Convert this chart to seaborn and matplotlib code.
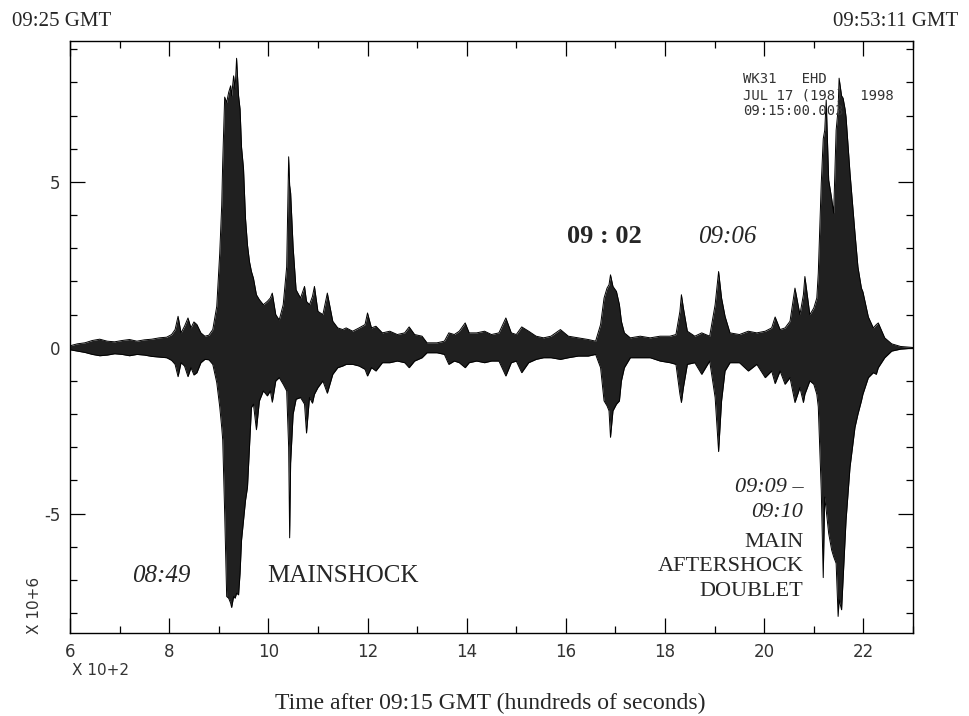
import numpy as np
import pandas as pd
import matplotlib
matplotlib.use("Agg")
import matplotlib.pyplot as plt
import seaborn as sns
from matplotlib.ticker import MultipleLocator

# envelope of the WK31 EHD trace
# time in hundreds of seconds after 09:15 GMT, amplitude in units of 10^6
trace_time = [6.00, 6.15, 6.30, 6.45, 6.60, 6.75, 6.90, 7.05, 7.20, 7.35, 7.50, 7.65, 7.80, 7.95,
              8.05, 8.12, 8.18, 8.24, 8.31, 8.38, 8.44, 8.50, 8.56, 8.64, 8.72, 8.80, 8.88, 8.96,
              9.02, 9.06, 9.08, 9.12, 9.16, 9.20, 9.24, 9.26, 9.30, 9.33, 9.36, 9.40, 9.43, 9.46,
              9.50, 9.54, 9.58, 9.62, 9.66, 9.70, 9.76, 9.82, 9.90, 9.98, 10.04, 10.08, 10.15,
              10.22, 10.30, 10.37, 10.41, 10.43, 10.45, 10.50, 10.56, 10.65, 10.73, 10.77, 10.83,
              10.89, 10.93, 11.00, 11.10, 11.19, 11.30, 11.40, 11.50, 11.57, 11.70, 11.83, 11.95,
              12.00, 12.08, 12.17, 12.30, 12.45, 12.60, 12.75, 12.84, 12.95, 13.10, 13.20, 13.40,
              13.55, 13.64, 13.75, 13.85, 13.97, 14.05, 14.20, 14.36, 14.50, 14.65, 14.79, 14.90,
              15.00, 15.11, 15.25, 15.40, 15.55, 15.70, 15.89, 16.05, 16.25, 16.45, 16.60, 16.70,
              16.77, 16.83, 16.87, 16.90, 16.95, 17.02, 17.08, 17.12, 17.18, 17.30, 17.50, 17.70,
              17.90, 18.10, 18.22, 18.30, 18.33, 18.37, 18.45, 18.60, 18.74, 18.90, 19.01, 19.08,
              19.14, 19.21, 19.31, 19.50, 19.68, 19.85, 20.02, 20.15, 20.22, 20.32, 20.42, 20.52,
              20.62, 20.72, 20.79, 20.82, 20.92, 21.00, 21.06, 21.09, 21.15, 21.19, 21.22, 21.25,
              21.30, 21.36, 21.40, 21.45, 21.49, 21.51, 21.56, 21.59, 21.63, 21.65, 21.73, 21.83,
              21.89, 21.96, 21.99, 22.10, 22.20, 22.26, 22.30, 22.43, 22.57, 22.75, 23.00]
trace_upper = [0.06, 0.12, 0.15, 0.22, 0.26, 0.20, 0.18, 0.22, 0.25, 0.20, 0.24, 0.26, 0.30, 0.32,
               0.40, 0.55, 0.95, 0.45, 0.65, 0.90, 0.60, 0.78, 0.70, 0.45, 0.35, 0.38, 0.55, 1.25,
               2.85, 4.30, 5.60, 7.56, 7.40, 7.70, 7.90, 7.60, 8.20, 7.80, 8.73, 7.60, 7.20, 6.05,
               5.40, 3.90, 3.10, 2.60, 2.30, 2.10, 1.60, 1.45, 1.30, 1.40, 1.50, 1.65, 1.00,
               0.84, 1.30, 2.44, 5.76, 4.90, 4.67, 3.04, 1.75, 1.50, 1.85, 1.40, 1.30,
               1.55, 1.85, 1.10, 1.00, 1.65, 0.80, 0.60, 0.55, 0.60, 0.50, 0.60, 0.70,
               1.05, 0.60, 0.65, 0.45, 0.50, 0.40, 0.45, 0.63, 0.40, 0.35, 0.15, 0.15,
               0.20, 0.45, 0.40, 0.50, 0.75, 0.45, 0.45, 0.50, 0.40, 0.45, 0.90, 0.45,
               0.40, 0.63, 0.50, 0.35, 0.30, 0.35, 0.55, 0.35, 0.30, 0.25, 0.20, 0.70,
               1.50, 1.80, 1.90, 2.20, 1.85, 1.70, 1.30, 0.80, 0.45, 0.30, 0.35, 0.30,
               0.35, 0.35, 0.40, 1.10, 1.60, 1.20, 0.50, 0.35, 0.45, 0.35, 1.30, 2.30,
               1.50, 0.95, 0.45, 0.40, 0.50, 0.45, 0.50, 0.60, 0.93, 0.55, 0.60, 0.80,
               1.80, 1.00, 1.60, 2.15, 1.00, 1.20, 1.50, 2.25, 4.96, 6.30, 6.56, 7.47,
               5.06, 4.50, 4.06, 6.56, 7.20, 8.13, 7.60, 7.53, 7.20, 6.96, 5.27, 3.46,
               2.44, 1.80, 1.69, 0.93, 0.60, 0.70, 0.75, 0.30, 0.12, 0.04, 0.01]
trace_lower = [-0.06, -0.10, -0.14, -0.20, -0.24, -0.22, -0.18, -0.20, -0.24, -0.20, -0.22, -0.26, -0.28, -0.30,
               -0.38, -0.50, -0.87, -0.45, -0.55, -0.87, -0.60, -0.82, -0.75, -0.45, -0.35, -0.36, -0.50, -1.05,
               -1.78, -2.40, -2.77, -5.00, -7.50, -7.55, -7.70, -7.83, -7.50, -7.55, -7.40, -7.45, -6.80, -5.80,
               -5.20, -4.60, -4.20, -3.00, -1.80, -1.70, -2.47, -1.60, -1.30, -1.45, -1.30, -1.64, -1.00,
               -0.90, -1.10, -1.30, -3.00, -5.73, -3.47, -2.00, -1.55, -1.50, -1.70, -2.57, -1.50,
               -1.67, -1.40, -1.20, -1.00, -1.37, -0.80, -0.60, -0.55, -0.50, -0.50, -0.55, -0.65,
               -0.85, -0.60, -0.70, -0.45, -0.45, -0.40, -0.45, -0.60, -0.40, -0.30, -0.15, -0.15,
               -0.20, -0.50, -0.40, -0.45, -0.60, -0.45, -0.40, -0.45, -0.40, -0.40, -0.85, -0.45,
               -0.40, -0.75, -0.45, -0.35, -0.30, -0.30, -0.35, -0.30, -0.25, -0.25, -0.20, -0.60,
               -1.60, -1.75, -1.90, -2.70, -1.90, -1.70, -1.60, -1.00, -0.60, -0.30, -0.30, -0.30,
               -0.40, -0.45, -0.50, -1.40, -1.65, -1.20, -0.50, -0.45, -0.80, -0.40, -1.50, -3.13,
               -1.60, -0.70, -0.45, -0.45, -0.70, -0.50, -0.90, -0.70, -1.08, -0.70, -1.10, -0.90,
               -1.65, -1.20, -1.65, -1.40, -1.00, -1.10, -1.40, -1.78, -4.30, -6.93, -4.50, -4.90,
               -5.60, -6.10, -6.30, -6.50, -8.10, -7.60, -7.90, -7.00, -5.80, -5.20, -3.60, -2.40,
               -2.00, -1.60, -1.40, -0.90, -0.75, -0.80, -0.60, -0.30, -0.10, -0.04, -0.01]

x_ticks = [6, 8, 10, 12, 14, 16, 18, 20, 22]
y_ticks = [-5, 0, 5]

df = pd.DataFrame({"time": trace_time, "upper": trace_upper, "lower": trace_lower})

sns.set_style("ticks")
plt.rcParams["font.family"] = ["DejaVu Sans"]

fig = plt.figure(figsize=(9.69, 7.16), dpi=100)
ax = fig.add_axes([0.0722, 0.1159, 0.8700, 0.8268])

ax.fill_between(df["time"], df["lower"], df["upper"], color="#202020", lw=0)
sns.lineplot(data=df, x="time", y="upper", color="black", lw=0.7, ax=ax)
sns.lineplot(data=df, x="time", y="lower", color="black", lw=0.7, ax=ax)

ax.set_xlim(6, 23)
ax.set_ylim(-8.6, 9.25)
ax.set_xticks(x_ticks)
ax.set_yticks(y_ticks)
ax.set_xticklabels([str(v) for v in x_ticks])
ax.set_yticklabels([str(v) for v in y_ticks])
ax.xaxis.set_minor_locator(MultipleLocator(1))
ax.yaxis.set_minor_locator(MultipleLocator(1))
ax.tick_params(which="both", direction="in", top=True, right=True, colors="black",
               labelcolor="#333333", labelsize=12, width=0.9)
ax.tick_params(which="major", length=11, pad=7)
ax.tick_params(which="minor", length=5)
ax.set_xlabel("")
ax.set_ylabel("")
for s in ax.spines.values():
    s.set_linewidth(1.0)
    s.set_color("black")

serif = ["Liberation Serif", "DejaVu Serif"]

# header times
fig.text(0.012, 0.970, "09:25 GMT", family=serif, fontsize=15, va="center", ha="left")
fig.text(0.989, 0.970, "09:53:11 GMT", family=serif, fontsize=15, va="center", ha="right")

# axis annotations
fig.text(0.506, 0.018, "Time after 09:15 GMT (hundreds of seconds)", family=serif, fontsize=17,
         ha="center", va="center")
fig.text(0.036, 0.155, "X 10+6", fontsize=11, rotation=90, ha="center", va="center", color="#333333")
fig.text(0.074, 0.064, "X 10+2", fontsize=11, ha="left", va="center", color="#333333")

# station header
ax.text(19.58, 8.32, "WK31   EHD\nJUL 17 (198)  1998\n09:15:00.003", family="DejaVu Sans Mono",
        fontsize=10, color="#333333", ha="left", va="top", linespacing=1.2)

# event labels
ax.text(7.85, -6.87, "08:49", family=serif, style="italic", fontsize=18, ha="center", va="center")
ax.text(11.51, -6.87, "MAINSHOCK", family=serif, fontsize=18, ha="center", va="center")
ax.text(16.78, 3.35, "09 : 02", family=serif, weight="bold", fontsize=19, ha="center", va="center")
ax.text(19.26, 3.35, "09:06", family=serif, style="italic", fontsize=18, ha="center", va="center")
ax.text(20.79, -4.2, "09:09 \u2013", family=serif, style="italic", fontsize=16, ha="right", va="center")
ax.text(20.79, -4.98, "09:10", family=serif, style="italic", fontsize=16, ha="right", va="center")
ax.text(20.79, -5.87, "MAIN", family=serif, fontsize=16, ha="right", va="center")
ax.text(20.79, -6.6, "AFTERSHOCK", family=serif, fontsize=16, ha="right", va="center")
ax.text(20.79, -7.35, "DOUBLET", family=serif, fontsize=16, ha="right", va="center")

fig.savefig("out.png", dpi=100)
